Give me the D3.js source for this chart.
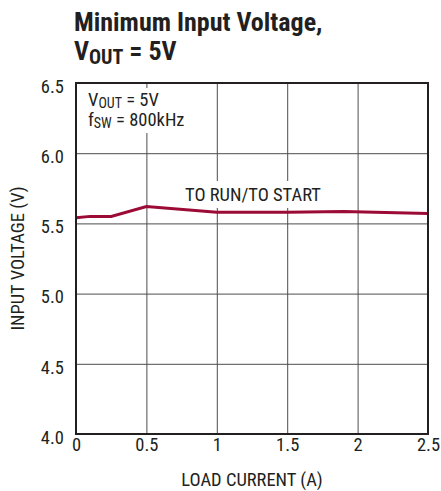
<!DOCTYPE html>
<html>
<head>
<meta charset="utf-8">
<script src="https://cdn.jsdelivr.net/npm/d3@7"></script>
<style>
  body { margin: 0; background: #fff; }
  text { font-family: "Liberation Sans Narrow", "Arial Narrow", "Roboto Condensed", sans-serif; fill: #231f20; }
</style>
</head>
<body>
<div id="chart"></div>
<script>
// load current (A) and minimum input voltage (V)
const loadCurrent = [0, 0.1, 0.25, 0.5, 1.0, 1.5, 1.9, 2.5]
const minVin = [5.54, 5.55, 5.55, 5.62, 5.58, 5.58, 5.585, 5.57]
const xTicks = [0, 0.5, 1, 1.5, 2, 2.5]
const yTicks = [4.0, 4.5, 5.0, 5.5, 6.0, 6.5]

const data = loadCurrent.map((d, i) => ({ x: d, y: minVin[i] }))

const margin = { top: 83, right: 13, bottom: 57, left: 76 }
const W = 441, H = 491
const width = W - margin.left - margin.right
const height = H - margin.top - margin.bottom
const fs = "18.5px"

const svg = d3.select("#chart")
    .append("svg")
    .attr("width", W)
    .attr("height", H)

// title
svg.append("text")
    .attr("x", 74)
    .attr("y", 31)
    .style("font-size", "26px")
    .style("font-weight", "bold")
    .text("Minimum Input Voltage,")
const t2 = svg.append("text")
    .attr("x", 74)
    .attr("y", 60)
    .style("font-size", "26px")
    .style("font-weight", "bold")
t2.append("tspan").text("V")
t2.append("tspan").attr("dy", 4).style("font-size", "20px").text("OUT")
t2.append("tspan").attr("dy", -4).text(" = 5V")

const g = svg.append("g")
    .attr("transform", `translate(${margin.left},${margin.top})`)

const x = d3.scaleLinear().domain([0, 2.5]).range([0, width])
const y = d3.scaleLinear().domain([4.0, 6.5]).range([height, 0])

// grid
g.append("g")
    .attr("transform", `translate(0,${height})`)
    .call(d3.axisBottom(x).tickValues(xTicks).tickSize(-height).tickFormat(""))
    .call(s => s.select(".domain").remove())
    .selectAll("line").attr("stroke", "#4d4d4f").attr("stroke-width", 1)

g.append("g")
    .call(d3.axisLeft(y).tickValues(yTicks).tickSize(-width).tickFormat(""))
    .call(s => s.select(".domain").remove())
    .selectAll("line").attr("stroke", "#4d4d4f").attr("stroke-width", 1)

// white boxes behind the notes
g.append("rect")
    .attr("x", 1).attr("y", 5)
    .attr("width", 125).attr("height", 45)
    .attr("fill", "#fff")
g.append("rect")
    .attr("x", 106).attr("y", 98)
    .attr("width", 148).attr("height", 27)
    .attr("fill", "#fff")

// curve
const line = d3.line()
    .x(d => x(d.x))
    .y(d => y(d.y))

g.append("path")
    .datum(data)
    .attr("fill", "none")
    .attr("stroke", "#9b0b35")
    .attr("stroke-width", 3)
    .attr("d", line)

// frame
g.append("rect")
    .attr("width", width)
    .attr("height", height)
    .attr("fill", "none")
    .attr("stroke", "#231f20")
    .attr("stroke-width", 2)

// tick labels
g.append("g")
    .attr("transform", `translate(0,${height})`)
    .call(d3.axisBottom(x).tickValues(xTicks).tickSize(0).tickPadding(4).tickFormat(d3.format("")))
    .call(s => s.select(".domain").remove())
    .selectAll("text").style("font-size", fs)

g.append("g")
    .call(d3.axisLeft(y).tickValues(yTicks).tickSize(0).tickPadding(12).tickFormat(d3.format(".1f")))
    .call(s => s.select(".domain").remove())
    .selectAll("text").style("font-size", fs).attr("dy", "0.5em")

// axis titles
g.append("text")
    .attr("x", width / 2)
    .attr("y", height + 52)
    .attr("text-anchor", "middle")
    .style("font-size", fs)
    .text("LOAD CURRENT (A)")

g.append("text")
    .attr("transform", `translate(-52,${height / 2}) rotate(-90)`)
    .attr("text-anchor", "middle")
    .style("font-size", fs)
    .text("INPUT VOLTAGE (V)")

// notes
const n1 = g.append("text").attr("x", 12).attr("y", 23).style("font-size", fs)
n1.append("tspan").text("V")
n1.append("tspan").attr("dy", 2).style("font-size", "14px").text("OUT")
n1.append("tspan").attr("dy", -2).text(" = 5V")
const n2 = g.append("text").attr("x", 12).attr("y", 43).style("font-size", fs)
n2.append("tspan").text("f")
n2.append("tspan").attr("dy", 2).style("font-size", "14px").text("SW")
n2.append("tspan").attr("dy", -2).text(" = 800kHz")

g.append("text")
    .attr("x", 109)
    .attr("y", 118)
    .style("font-size", fs)
    .text("TO RUN/TO START")
</script>
</body>
</html>
